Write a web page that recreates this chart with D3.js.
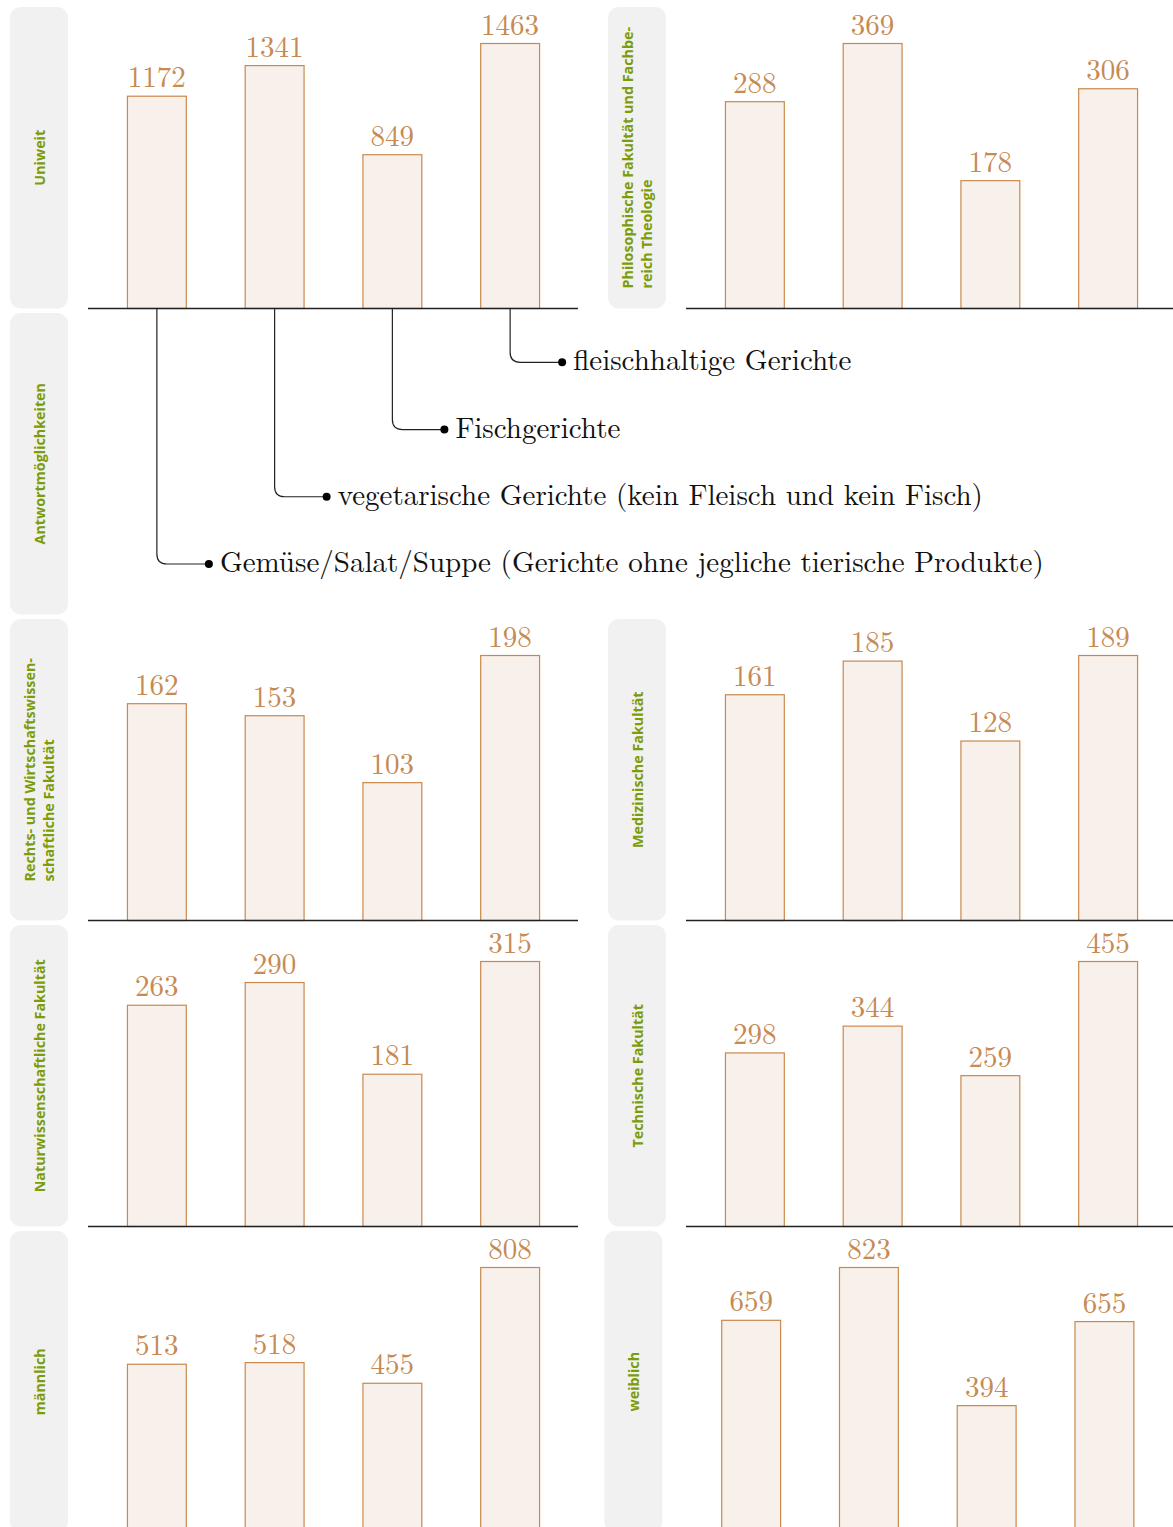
<!DOCTYPE html>
<html><head><meta charset="utf-8">
<script src="https://cdn.jsdelivr.net/npm/d3@7"></script>
<style>html,body{margin:0;padding:0;background:#fff;}svg{display:block;}</style>
</head><body>
<script>
// ---- data ----
const categories = [
  "Gemüse/Salat/Suppe (Gerichte ohne jegliche tierische Produkte)",
  "vegetarische Gerichte (kein Fleisch und kein Fisch)",
  "Fischgerichte",
  "fleischhaltige Gerichte"
];
const groupNames = [
  ["Uniweit"],
  ["Philosophische Fakultät und Fachbe-", "reich Theologie"],
  ["Rechts- und Wirtschaftswissen-", "schaftliche Fakultät"],
  ["Medizinische Fakultät"],
  ["Naturwissenschaftliche Fakultät"],
  ["Technische Fakultät"],
  ["männlich"],
  ["weiblich"]
];
const valuesUniweit = [1172, 1341, 849, 1463];
const valuesPhilosophie = [288, 369, 178, 306];
const valuesRecht = [162, 153, 103, 198];
const valuesMedizin = [161, 185, 128, 189];
const valuesNatur = [263, 290, 181, 315];
const valuesTechnik = [298, 344, 259, 455];
const valuesMaennlich = [513, 518, 455, 808];
const valuesWeiblich = [659, 823, 394, 655];
const legendTitle = ["Antwortmöglichkeiten"];

const seriesValues = [valuesUniweit, valuesPhilosophie, valuesRecht, valuesMedizin,
                      valuesNatur, valuesTechnik, valuesMaennlich, valuesWeiblich];

// ---- layout ----
const W = 1173, H = 1527;
const rowTop = r => 7 + r * 306;
const boxH = 301.5, barMaxH = 265;
const colDX = 598;
// panel placement: [row, col, extra dx]
const panelPos = [[0,0,0],[0,1,0],[2,0,0],[2,1,0],[3,0,0],[3,1,0],[4,0,0],[4,1,-3.7]];

const svg = d3.select("body").append("svg").attr("width", W).attr("height", H);
svg.append("rect").attr("width", W).attr("height", H).attr("fill", "#fff");

const barFill = "#f8f0ea", barStroke = "#c9894d", valColor = "#c68a52";
const green = "#7c9c08", boxFill = "#f1f1f1";
const serif = "'Latin Modern Roman','CMU Serif','Liberation Serif',serif";
const sans = "'Open Sans','Noto Sans',sans-serif";

function labelBox(g, x0, y0, lines) {
  g.append("rect").attr("x", x0).attr("y", y0).attr("width", 58).attr("height", boxH)
    .attr("rx", 11).attr("ry", 11).attr("fill", boxFill);
  const cx = x0 + 29, cy = y0 + boxH / 2;
  const t = g.append("g").attr("transform", `translate(${cx},${cy}) rotate(-90)`);
  const n = lines.length, lh = 18.5;
  const texts = lines.map((s, i) => t.append("text")
    .attr("y", (i - (n - 1) / 2) * lh)
    .attr("dominant-baseline", "central")
    .attr("fill", green).attr("font-family", sans).attr("font-weight", 700)
    .attr("font-size", 14.3).text(s));
  if (n === 1) {
    texts[0].attr("text-anchor", "middle");
  } else {
    const maxW = d3.max(texts, tx => tx.node().getComputedTextLength());
    texts.forEach(tx => tx.attr("x", -maxW / 2).attr("text-anchor", "start"));
  }
}

let firstX = null, firstBase = null;
seriesValues.forEach((vals, pi) => {
  const [row, col, dx] = panelPos[pi];
  const ox = col * colDX + dx;
  const top = rowTop(row);
  const base = top + boxH;
  const g = svg.append("g");
  labelBox(g, 10 + ox, top, groupNames[pi]);

  const x = d3.scalePoint().domain(categories).range([98 + ox, 569 + ox]).padding(0.5);
  const bw = x.step() * 0.5;
  const y = d3.scaleLinear().domain([0, d3.max(vals)]).range([base, base - barMaxH]);

  g.selectAll("rect.bar").data(vals).join("rect").attr("class", "bar")
    .attr("x", (d, i) => x(categories[i]) - bw / 2)
    .attr("y", d => y(d))
    .attr("width", bw)
    .attr("height", d => y(0) - y(d))
    .attr("fill", barFill).attr("stroke", barStroke).attr("stroke-width", 1.2);

  g.selectAll("text.val").data(vals).join("text").attr("class", "val")
    .attr("x", (d, i) => x(categories[i]))
    .attr("y", d => y(d) - 9)
    .attr("text-anchor", "middle")
    .attr("fill", valColor).attr("font-family", serif).attr("font-size", 29)
    .text(d => d);

  g.append("line").attr("x1", 88 + ox).attr("x2", 578 + ox + (col === 1 ? 20 : 0))
    .attr("y1", base).attr("y2", base).attr("stroke", "#222").attr("stroke-width", 1.3);

  if (pi === 0) { firstX = x; firstBase = base; }
});

// ---- legend panel ----
const lg = svg.append("g");
labelBox(lg, 10, rowTop(1), legendTitle);
const ly = d3.scalePoint().domain(categories).range([564, 362.3]);
const r = 10, armLen = 52;
categories.forEach((c, i) => {
  const cx = firstX(c), yy = ly(c);
  lg.append("path")
    .attr("d", `M${cx},${firstBase} V${yy - r} Q${cx},${yy} ${cx + r},${yy} H${cx + armLen}`)
    .attr("fill", "none").attr("stroke", "#222").attr("stroke-width", 1.2);
  lg.append("circle").attr("cx", cx + armLen).attr("cy", yy).attr("r", 4).attr("fill", "#000");
  lg.append("text").attr("x", cx + armLen + 11).attr("y", yy + 8)
    .attr("fill", "#111").attr("font-family", serif).attr("font-size", 29).text(c);
});
</script>
</body></html>
